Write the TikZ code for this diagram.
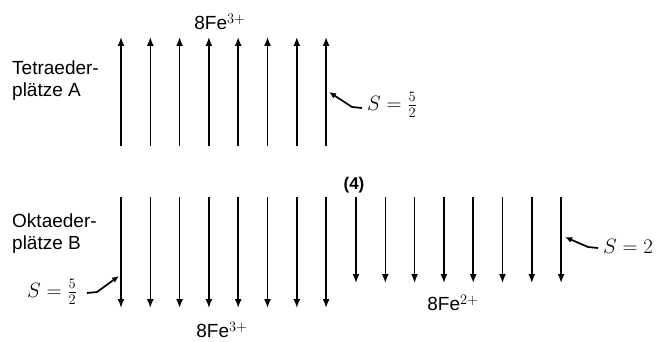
\documentclass[tikz,border=0pt]{standalone}
\usepackage{fontspec}
\setmainfont{Liberation Sans}
\usetikzlibrary{arrows.meta, positioning, calc}

\begin{document}
\begin{tikzpicture}[x=1pt, y=-1pt, font=\fontsize{19}{22}\selectfont,
    spin/.style={line width=1.6pt, -{Latex[length=9pt,width=7pt]}},
    pointer/.style={line width=1.7pt, -{Latex[length=7pt,width=6pt]}},
    spinlabel/.style={inner sep=0pt, font=\fontsize{22}{24}\selectfont}]
    \useasboundingbox (0,0) rectangle (658,342);
    % Tetraederplaetze A
    \foreach \i in {0,...,7}
        \draw[spin] (121+29.3*\i,146) -- (121+29.3*\i,37);
    % Oktaederplaetze B
    \foreach \i in {0,...,7}
        \draw[spin] (121+29.3*\i,197) -- (121+29.3*\i,308);
    \foreach \i in {0,...,7}
        \draw[spin] (356+29.3*\i,197) -- (356+29.3*\i,283);

    \node[anchor=west, align=left, inner sep=0pt] (tetra) at (12,81) {Tetraeder-\\pl\"atze A};
    \node[anchor=west, align=left, inner sep=0pt] (okta) at (12,234) {Oktaeder-\\pl\"atze B};
    \node (feA) at (220,22) {8Fe$^{3+}$};
    \node (feB) at (222,330) {8Fe$^{3+}$};
    \node (feC) at (453,303) {8Fe$^{2+}$};
    \node[font=\fontsize{17}{20}\selectfont\bfseries] (four) at (354,185) {(4)};

    \node[spinlabel, anchor=west] (sA) at (367,105) {$S=\frac{5}{2}$};
    \node[spinlabel, anchor=east] (sB) at (77,292) {$S=\frac{5}{2}$};
    \node[spinlabel, anchor=west] (sC) at (603,246) {$S=2$};
    \coordinate (tA) at (329,92);
    \coordinate (tB) at (119,276);
    \coordinate (tC) at (565,237);
    \draw[pointer] ($(sA.west)+(-5,3)$) -- ++(-10,-1) -- (tA);
    \draw[pointer] ($(sB.east)+(10,1)$) -- ++(10,-1) -- (tB);
    \draw[pointer] ($(sC.west)+(-5,2)$) -- ++(-10,-1) -- (tC);
\end{tikzpicture}
\end{document}
